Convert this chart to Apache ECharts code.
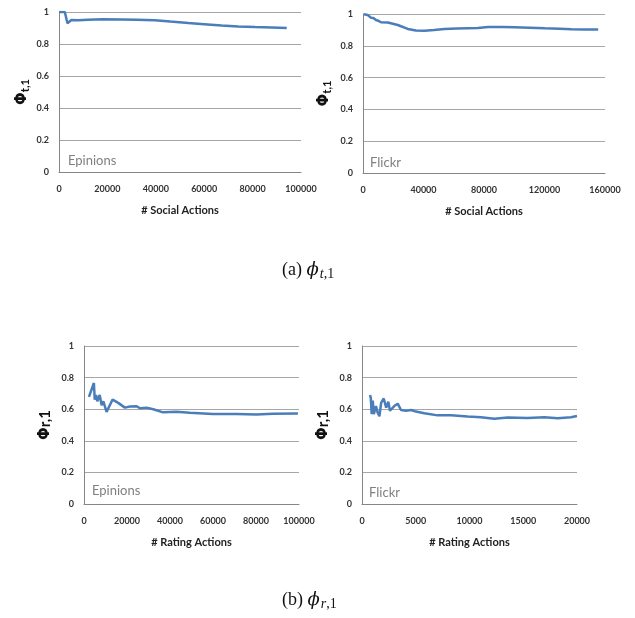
<!DOCTYPE html>
<html>
<head>
<meta charset="utf-8">
<script src="https://cdn.jsdelivr.net/npm/echarts@6/dist/echarts.min.js"></script>
<style>
  html, body { margin: 0; padding: 0; background: #fff; }
  #main { width: 635px; height: 618px; }
</style>
</head>
<body>
<div id="main"></div>
<script>
// Epinions, trust (social actions)
const epSocialX = [0, 2400, 3500, 5100, 8000, 12000, 18000, 25800, 32000, 39600, 46000, 53400, 60000, 67200, 74000, 81000, 88000, 94100]
const epSocialY = [1.0, 1.0, 0.93, 0.95, 0.948, 0.952, 0.955, 0.953, 0.951, 0.948, 0.94, 0.931, 0.924, 0.916, 0.91, 0.906, 0.903, 0.9]

// Flickr, trust (social actions)
const flSocialX = [500, 1500, 3100, 4200, 5300, 6800, 8600, 10000, 11900, 16400, 23000, 29600, 35000, 40600, 47000, 53900, 62000, 69400, 76000, 82600, 92000, 100300, 110000, 120200, 130000, 137800, 146000, 155500]
const flSocialY = [0.998, 0.99, 0.994, 0.985, 0.977, 0.975, 0.962, 0.958, 0.948, 0.946, 0.931, 0.906, 0.896, 0.894, 0.899, 0.906, 0.909, 0.911, 0.912, 0.918, 0.918, 0.917, 0.914, 0.91, 0.907, 0.904, 0.903, 0.902]

// Epinions, rating actions
const epRatingX = [2300, 4600, 5000, 5600, 6200, 6700, 7300, 8200, 9000, 10500, 13300, 15900, 19000, 21400, 24500, 26000, 29100, 32200, 36800, 43000, 49200, 60000, 70900, 80200, 87900, 99500]
const epRatingY = [0.678, 0.766, 0.66, 0.69, 0.65, 0.66, 0.69, 0.625, 0.65, 0.583, 0.661, 0.64, 0.61, 0.617, 0.619, 0.606, 0.61, 0.6, 0.58, 0.584, 0.578, 0.57, 0.57, 0.566, 0.571, 0.573]

// Flickr, rating actions
const flRatingX = [750, 820, 900, 1000, 1100, 1300, 1450, 1620, 1780, 2020, 2250, 2450, 2600, 3000, 3320, 3630, 4100, 4560, 5020, 5800, 7040, 8280, 9830, 11070, 12300, 13550, 15400, 16970, 18200, 19440, 20000]
const flRatingY = [0.69, 0.67, 0.568, 0.655, 0.568, 0.62, 0.58, 0.555, 0.64, 0.668, 0.61, 0.648, 0.59, 0.62, 0.635, 0.595, 0.59, 0.595, 0.585, 0.575, 0.561, 0.561, 0.554, 0.549, 0.539, 0.547, 0.545, 0.549, 0.543, 0.549, 0.557]

const zip = (xs, ys) => xs.map((x, i) => [x, ys[i]])

const tickFont = { fontFamily: 'Lato', fontWeight: 'bold', fontSize: 9, color: '#333' }
const gridColor = '#a6a6a6'

function xAxisOf (idx, max, step, title) {
  return {
    gridIndex: idx,
    type: 'value',
    min: 0,
    max: max,
    interval: step,
    name: title,
    nameLocation: 'middle',
    nameGap: 33,
    nameTextStyle: { fontFamily: 'Lato', fontWeight: 'bold', fontSize: 11, color: '#222' },
    axisLine: { show: true, lineStyle: { color: '#868686' } },
    axisTick: { show: false },
    splitLine: { show: false },
    axisLabel: Object.assign({ margin: 13, formatter: v => String(v) }, tickFont)
  }
}

function yAxisOf (idx, name, gap) {
  return {
    gridIndex: idx,
    type: 'value',
    min: 0,
    max: 1,
    interval: 0.2,
    name: name,
    nameLocation: 'middle',
    nameRotate: 90,
    nameGap: gap,
    nameTextStyle: {
      fontFamily: 'Lato', fontWeight: 'bold', fontSize: 15, color: '#111',
      rich: {
        big: { fontFamily: 'DejaVu Sans', fontWeight: 'bold', fontSize: 15, color: '#111' },
        sub: { fontFamily: 'Lato', fontWeight: 'bold', fontSize: 11, color: '#111', verticalAlign: 'bottom', padding: [6, 0, 0, 0] },
        flat: { fontFamily: 'Lato', fontWeight: 'bold', fontSize: 15, color: '#111' }
      }
    },
    axisLine: { show: true, lineStyle: { color: '#868686' } },
    axisTick: { show: false },
    splitLine: { show: true, lineStyle: { color: gridColor } },
    axisLabel: Object.assign({ margin: 10, formatter: v => String(+v.toFixed(1)) }, tickFont)
  }
}

function lineOf (idx, data) {
  return {
    type: 'line',
    xAxisIndex: idx,
    yAxisIndex: idx,
    data: data,
    showSymbol: false,
    smooth: false,
    lineStyle: { color: '#4a7ebb', width: 2.5 },
    itemStyle: { color: '#4a7ebb' },
    animation: false
  }
}

function label (text, x, y) {
  return {
    type: 'text',
    x: x,
    y: y,
    style: { text: text, fontFamily: 'Lato', fontSize: 13, fill: '#808080', verticalAlign: 'middle' }
  }
}

function caption (letter, sub, y) {
  return {
    type: 'text',
    x: 282,
    y: y,
    style: {
      text: '{p|(' + letter + ') }{phi|ϕ}{s|' + sub + '}{n|,1}',
      verticalAlign: 'middle',
      rich: {
        p: { fontFamily: 'Liberation Serif', fontSize: 18, fill: '#111' },
        phi: { fontFamily: 'DejaVu Serif', fontStyle: 'italic', fontSize: 18, fill: '#111' },
        s: { fontFamily: 'Liberation Serif', fontStyle: 'italic', fontSize: 14, fill: '#111', verticalAlign: 'bottom', padding: [9, 0, 0, 1] },
        n: { fontFamily: 'Liberation Serif', fontSize: 14, fill: '#111', verticalAlign: 'bottom', padding: [9, 0, 0, 0] }
      }
    }
  }
}

const myChart = echarts.init(document.getElementById('main'))

const option = {
  backgroundColor: '#fff',
  animation: false,
  grid: [
    { left: 59, right: 334, top: 12, bottom: 446 },
    { left: 363, right: 30, top: 14, bottom: 445 },
    { left: 84, right: 336, top: 346, bottom: 114 },
    { left: 362, right: 58, top: 346, bottom: 114 }
  ],
  xAxis: [
    xAxisOf(0, 100000, 20000, '# Social Actions'),
    xAxisOf(1, 160000, 40000, '# Social Actions'),
    xAxisOf(2, 100000, 20000, '# Rating Actions'),
    xAxisOf(3, 20000, 5000, '# Rating Actions')
  ],
  yAxis: [
    yAxisOf(0, '{big|Φ}{sub|t,1}', 28),
    yAxisOf(1, '{big|Φ}{sub|t,1}', 30),
    yAxisOf(2, '{big|Φ}{flat|r,1}', 31),
    yAxisOf(3, '{big|Φ}{flat|r,1}', 31)
  ],
  series: [
    lineOf(0, zip(epSocialX, epSocialY)),
    lineOf(1, zip(flSocialX, flSocialY)),
    lineOf(2, zip(epRatingX, epRatingY)),
    lineOf(3, zip(flRatingX, flRatingY))
  ],
  graphic: [
    label('Epinions', 68, 161),
    label('Flickr', 370, 163),
    label('Epinions', 92, 491),
    label('Flickr', 369, 493),
    caption('a', 't', 270),
    caption('b', 'r', 600)
  ]
}

myChart.setOption(option)
</script>
</body>
</html>
